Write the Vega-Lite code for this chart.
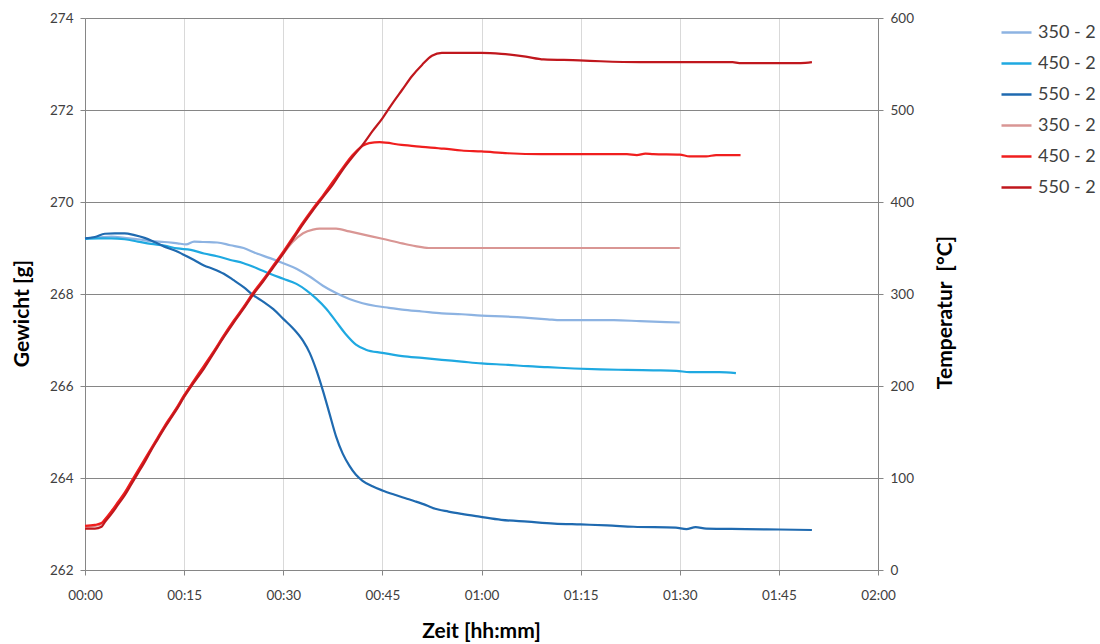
{
  "$schema": "https://vega.github.io/schema/vega-lite/v6.json",
  "width": 793,
  "height": 552,
  "autosize": {"type": "none"},
  "padding": {"left": 85, "top": 18, "right": 222, "bottom": 74},
  "background": "white",
  "config": {
    "font": "Lato",
    "view": {"stroke": null},
    "axis": {
      "labelFont": "Lato",
      "labelFontSize": 13.5,
      "labelColor": "#404040",
      "titleFont": "Lato",
      "titleFontSize": 21,
      "titleFontWeight": "bold",
      "titleColor": "#000000",
      "domainColor": "#868686",
      "tickColor": "#868686",
      "tickSize": 5,
      "labelPadding": 7,
      "labelFlush": false
    }
  },
  "datasets": {
    "weight": [
      {"s": "W350", "t": 0, "v": 269.21}, {"s": "W350", "t": 2, "v": 269.23}, {"s": "W350", "t": 4, "v": 269.25}, {"s": "W350", "t": 6, "v": 269.22}, {"s": "W350", "t": 8, "v": 269.19}, {"s": "W350", "t": 10, "v": 269.15}, {"s": "W350", "t": 12, "v": 269.13}, {"s": "W350", "t": 14, "v": 269.10}, {"s": "W350", "t": 15.3, "v": 269.08}, {"s": "W350", "t": 16.5, "v": 269.14}, {"s": "W350", "t": 18, "v": 269.13}, {"s": "W350", "t": 20, "v": 269.12}, {"s": "W350", "t": 22, "v": 269.06}, {"s": "W350", "t": 24, "v": 269.00}, {"s": "W350", "t": 26, "v": 268.88}, {"s": "W350", "t": 28, "v": 268.78}, {"s": "W350", "t": 30, "v": 268.67}, {"s": "W350", "t": 32, "v": 268.55}, {"s": "W350", "t": 34, "v": 268.38}, {"s": "W350", "t": 36, "v": 268.18}, {"s": "W350", "t": 38, "v": 268.02}, {"s": "W350", "t": 40, "v": 267.89}, {"s": "W350", "t": 42, "v": 267.80}, {"s": "W350", "t": 44, "v": 267.74}, {"s": "W350", "t": 46, "v": 267.70}, {"s": "W350", "t": 48, "v": 267.66}, {"s": "W350", "t": 51, "v": 267.62}, {"s": "W350", "t": 54, "v": 267.58}, {"s": "W350", "t": 57, "v": 267.56}, {"s": "W350", "t": 60, "v": 267.53}, {"s": "W350", "t": 64, "v": 267.51}, {"s": "W350", "t": 67, "v": 267.48}, {"s": "W350", "t": 70, "v": 267.45}, {"s": "W350", "t": 72, "v": 267.43}, {"s": "W350", "t": 80, "v": 267.43}, {"s": "W350", "t": 84, "v": 267.41}, {"s": "W350", "t": 86, "v": 267.40}, {"s": "W350", "t": 90, "v": 267.38},
      {"s": "W450", "t": 0, "v": 269.20}, {"s": "W450", "t": 2, "v": 269.21}, {"s": "W450", "t": 4, "v": 269.21}, {"s": "W450", "t": 6, "v": 269.19}, {"s": "W450", "t": 8, "v": 269.14}, {"s": "W450", "t": 10, "v": 269.09}, {"s": "W450", "t": 12, "v": 269.05}, {"s": "W450", "t": 14, "v": 268.99}, {"s": "W450", "t": 16, "v": 268.96}, {"s": "W450", "t": 18, "v": 268.88}, {"s": "W450", "t": 20, "v": 268.82}, {"s": "W450", "t": 22, "v": 268.74}, {"s": "W450", "t": 24, "v": 268.67}, {"s": "W450", "t": 26, "v": 268.56}, {"s": "W450", "t": 28, "v": 268.44}, {"s": "W450", "t": 30, "v": 268.33}, {"s": "W450", "t": 32, "v": 268.22}, {"s": "W450", "t": 33.5, "v": 268.08}, {"s": "W450", "t": 35, "v": 267.90}, {"s": "W450", "t": 36.5, "v": 267.68}, {"s": "W450", "t": 38, "v": 267.40}, {"s": "W450", "t": 39.5, "v": 267.12}, {"s": "W450", "t": 41, "v": 266.90}, {"s": "W450", "t": 42.5, "v": 266.79}, {"s": "W450", "t": 45, "v": 266.72}, {"s": "W450", "t": 48, "v": 266.65}, {"s": "W450", "t": 51, "v": 266.61}, {"s": "W450", "t": 54, "v": 266.57}, {"s": "W450", "t": 57, "v": 266.53}, {"s": "W450", "t": 60, "v": 266.49}, {"s": "W450", "t": 64, "v": 266.46}, {"s": "W450", "t": 67, "v": 266.43}, {"s": "W450", "t": 70, "v": 266.41}, {"s": "W450", "t": 74, "v": 266.38}, {"s": "W450", "t": 78, "v": 266.36}, {"s": "W450", "t": 82, "v": 266.35}, {"s": "W450", "t": 86, "v": 266.34}, {"s": "W450", "t": 89.5, "v": 266.33}, {"s": "W450", "t": 91.5, "v": 266.30}, {"s": "W450", "t": 96, "v": 266.30}, {"s": "W450", "t": 98.5, "v": 266.28},
      {"s": "W550", "t": 0, "v": 269.21}, {"s": "W550", "t": 1.5, "v": 269.24}, {"s": "W550", "t": 3, "v": 269.31}, {"s": "W550", "t": 4.5, "v": 269.32}, {"s": "W550", "t": 6, "v": 269.32}, {"s": "W550", "t": 7.5, "v": 269.28}, {"s": "W550", "t": 9, "v": 269.22}, {"s": "W550", "t": 10.5, "v": 269.13}, {"s": "W550", "t": 12, "v": 269.03}, {"s": "W550", "t": 13.5, "v": 268.95}, {"s": "W550", "t": 15, "v": 268.85}, {"s": "W550", "t": 16.5, "v": 268.74}, {"s": "W550", "t": 18, "v": 268.62}, {"s": "W550", "t": 19.5, "v": 268.54}, {"s": "W550", "t": 21, "v": 268.44}, {"s": "W550", "t": 22.5, "v": 268.30}, {"s": "W550", "t": 24, "v": 268.15}, {"s": "W550", "t": 25.5, "v": 267.97}, {"s": "W550", "t": 27, "v": 267.83}, {"s": "W550", "t": 28.5, "v": 267.67}, {"s": "W550", "t": 30, "v": 267.46}, {"s": "W550", "t": 31.5, "v": 267.25}, {"s": "W550", "t": 33, "v": 266.98}, {"s": "W550", "t": 34, "v": 266.72}, {"s": "W550", "t": 35, "v": 266.35}, {"s": "W550", "t": 36, "v": 265.90}, {"s": "W550", "t": 37, "v": 265.40}, {"s": "W550", "t": 38, "v": 264.90}, {"s": "W550", "t": 39, "v": 264.53}, {"s": "W550", "t": 40, "v": 264.27}, {"s": "W550", "t": 41, "v": 264.07}, {"s": "W550", "t": 42, "v": 263.94}, {"s": "W550", "t": 43.5, "v": 263.82}, {"s": "W550", "t": 45, "v": 263.73}, {"s": "W550", "t": 47, "v": 263.63}, {"s": "W550", "t": 48.5, "v": 263.56}, {"s": "W550", "t": 50, "v": 263.49}, {"s": "W550", "t": 51.6, "v": 263.41}, {"s": "W550", "t": 53, "v": 263.33}, {"s": "W550", "t": 55, "v": 263.27}, {"s": "W550", "t": 57, "v": 263.22}, {"s": "W550", "t": 59.7, "v": 263.16}, {"s": "W550", "t": 63, "v": 263.09}, {"s": "W550", "t": 67, "v": 263.05}, {"s": "W550", "t": 71, "v": 263.01}, {"s": "W550", "t": 75, "v": 262.99}, {"s": "W550", "t": 79, "v": 262.97}, {"s": "W550", "t": 83, "v": 262.94}, {"s": "W550", "t": 89.4, "v": 262.92}, {"s": "W550", "t": 91, "v": 262.89}, {"s": "W550", "t": 92.4, "v": 262.93}, {"s": "W550", "t": 94, "v": 262.90}, {"s": "W550", "t": 100, "v": 262.89}, {"s": "W550", "t": 105, "v": 262.88}, {"s": "W550", "t": 110, "v": 262.87}
    ],
    "temp": [
      {"s": "T350", "t": 0, "v": 47}, {"s": "T350", "t": 1.5, "v": 48}, {"s": "T350", "t": 2.5, "v": 50}, {"s": "T350", "t": 3, "v": 54}, {"s": "T350", "t": 4, "v": 63}, {"s": "T350", "t": 5, "v": 73}, {"s": "T350", "t": 6, "v": 83}, {"s": "T350", "t": 7, "v": 95}, {"s": "T350", "t": 8, "v": 107}, {"s": "T350", "t": 9, "v": 119}, {"s": "T350", "t": 10, "v": 131}, {"s": "T350", "t": 11, "v": 143}, {"s": "T350", "t": 12, "v": 155}, {"s": "T350", "t": 13, "v": 166}, {"s": "T350", "t": 14, "v": 177}, {"s": "T350", "t": 15, "v": 189}, {"s": "T350", "t": 16.5, "v": 205}, {"s": "T350", "t": 18, "v": 221}, {"s": "T350", "t": 19.5, "v": 237}, {"s": "T350", "t": 21, "v": 254}, {"s": "T350", "t": 22.5, "v": 270}, {"s": "T350", "t": 24, "v": 285}, {"s": "T350", "t": 25.5, "v": 301}, {"s": "T350", "t": 27, "v": 315}, {"s": "T350", "t": 28.5, "v": 330}, {"s": "T350", "t": 30, "v": 344}, {"s": "T350", "t": 31.5, "v": 357}, {"s": "T350", "t": 33, "v": 366}, {"s": "T350", "t": 34.5, "v": 370}, {"s": "T350", "t": 35.5, "v": 371}, {"s": "T350", "t": 38, "v": 371}, {"s": "T350", "t": 40, "v": 368}, {"s": "T350", "t": 42.5, "v": 364}, {"s": "T350", "t": 45, "v": 360}, {"s": "T350", "t": 48, "v": 355}, {"s": "T350", "t": 50, "v": 352}, {"s": "T350", "t": 52, "v": 350}, {"s": "T350", "t": 60, "v": 350}, {"s": "T350", "t": 70, "v": 350}, {"s": "T350", "t": 80, "v": 350}, {"s": "T350", "t": 90, "v": 350},
      {"s": "T450", "t": 0, "v": 48}, {"s": "T450", "t": 1.5, "v": 49}, {"s": "T450", "t": 2.5, "v": 51}, {"s": "T450", "t": 3, "v": 55}, {"s": "T450", "t": 4, "v": 64}, {"s": "T450", "t": 5, "v": 74}, {"s": "T450", "t": 6, "v": 84}, {"s": "T450", "t": 7, "v": 96}, {"s": "T450", "t": 8, "v": 108}, {"s": "T450", "t": 9, "v": 120}, {"s": "T450", "t": 10, "v": 132}, {"s": "T450", "t": 11, "v": 144}, {"s": "T450", "t": 12, "v": 156}, {"s": "T450", "t": 13, "v": 167}, {"s": "T450", "t": 14, "v": 178}, {"s": "T450", "t": 15, "v": 190}, {"s": "T450", "t": 16.5, "v": 206}, {"s": "T450", "t": 18, "v": 222}, {"s": "T450", "t": 19.5, "v": 238}, {"s": "T450", "t": 21, "v": 255}, {"s": "T450", "t": 22.5, "v": 271}, {"s": "T450", "t": 24, "v": 286}, {"s": "T450", "t": 25.5, "v": 302}, {"s": "T450", "t": 27, "v": 316}, {"s": "T450", "t": 28.5, "v": 331}, {"s": "T450", "t": 30, "v": 346}, {"s": "T450", "t": 31.5, "v": 362}, {"s": "T450", "t": 33, "v": 378}, {"s": "T450", "t": 34.5, "v": 393}, {"s": "T450", "t": 36, "v": 407}, {"s": "T450", "t": 37.5, "v": 422}, {"s": "T450", "t": 39, "v": 437}, {"s": "T450", "t": 40.5, "v": 451}, {"s": "T450", "t": 42, "v": 461}, {"s": "T450", "t": 43, "v": 464}, {"s": "T450", "t": 44.6, "v": 465}, {"s": "T450", "t": 47.9, "v": 462}, {"s": "T450", "t": 51, "v": 460}, {"s": "T450", "t": 54.3, "v": 458}, {"s": "T450", "t": 57, "v": 456}, {"s": "T450", "t": 60, "v": 455}, {"s": "T450", "t": 64, "v": 453}, {"s": "T450", "t": 69, "v": 452}, {"s": "T450", "t": 74, "v": 452}, {"s": "T450", "t": 82, "v": 452}, {"s": "T450", "t": 83.5, "v": 451}, {"s": "T450", "t": 84.8, "v": 452.5}, {"s": "T450", "t": 86, "v": 452}, {"s": "T450", "t": 90, "v": 451.5}, {"s": "T450", "t": 91.5, "v": 449.5}, {"s": "T450", "t": 94, "v": 449.5}, {"s": "T450", "t": 95.5, "v": 451}, {"s": "T450", "t": 99.2, "v": 451},
      {"s": "T550", "t": 0, "v": 45}, {"s": "T550", "t": 1.5, "v": 45}, {"s": "T550", "t": 2.5, "v": 47}, {"s": "T550", "t": 3, "v": 52}, {"s": "T550", "t": 4, "v": 61}, {"s": "T550", "t": 5, "v": 71}, {"s": "T550", "t": 6, "v": 81}, {"s": "T550", "t": 7, "v": 93}, {"s": "T550", "t": 8, "v": 105}, {"s": "T550", "t": 9, "v": 117}, {"s": "T550", "t": 10, "v": 130}, {"s": "T550", "t": 11, "v": 142}, {"s": "T550", "t": 12, "v": 154}, {"s": "T550", "t": 13, "v": 165}, {"s": "T550", "t": 14, "v": 176}, {"s": "T550", "t": 15, "v": 188}, {"s": "T550", "t": 16.5, "v": 204}, {"s": "T550", "t": 18, "v": 219}, {"s": "T550", "t": 19.5, "v": 236}, {"s": "T550", "t": 21, "v": 253}, {"s": "T550", "t": 22.5, "v": 269}, {"s": "T550", "t": 24, "v": 284}, {"s": "T550", "t": 25.5, "v": 300}, {"s": "T550", "t": 27, "v": 314}, {"s": "T550", "t": 28.5, "v": 329}, {"s": "T550", "t": 30, "v": 344}, {"s": "T550", "t": 31.5, "v": 360}, {"s": "T550", "t": 33, "v": 376}, {"s": "T550", "t": 34.5, "v": 391}, {"s": "T550", "t": 36, "v": 405}, {"s": "T550", "t": 37.5, "v": 419}, {"s": "T550", "t": 39, "v": 435}, {"s": "T550", "t": 40.5, "v": 449}, {"s": "T550", "t": 42, "v": 462}, {"s": "T550", "t": 43.5, "v": 477}, {"s": "T550", "t": 45, "v": 491}, {"s": "T550", "t": 46.5, "v": 507}, {"s": "T550", "t": 48, "v": 522}, {"s": "T550", "t": 49.5, "v": 537}, {"s": "T550", "t": 51, "v": 549}, {"s": "T550", "t": 52.5, "v": 559}, {"s": "T550", "t": 54, "v": 562}, {"s": "T550", "t": 57, "v": 562}, {"s": "T550", "t": 60, "v": 562}, {"s": "T550", "t": 63, "v": 561}, {"s": "T550", "t": 66.7, "v": 558}, {"s": "T550", "t": 69.4, "v": 555}, {"s": "T550", "t": 74.8, "v": 554}, {"s": "T550", "t": 78, "v": 553}, {"s": "T550", "t": 84, "v": 552}, {"s": "T550", "t": 98, "v": 552}, {"s": "T550", "t": 99, "v": 551}, {"s": "T550", "t": 108.3, "v": 551}, {"s": "T550", "t": 110, "v": 552}
    ]
  },
  "layer": [
    {
      "data": {"name": "weight"},
      "mark": {"type": "line", "strokeWidth": 2.2, "interpolate": "monotone"},
      "encoding": {
        "x": {
          "field": "t", "type": "quantitative",
          "scale": {"domain": [0, 120], "nice": false},
          "axis": {
            "values": [0, 15, 30, 45, 60, 75, 90, 105, 120],
            "labelExpr": "utcFormat(datum.value * 60000, '%H:%M')",
            "labelFlush": false,
            "grid": true, "gridColor": "#D9D9D9", "gridWidth": 1,
            "title": "Zeit [hh:mm]", "titleX": 396, "titleY": 61, "titleBaseline": "middle",
            "labelPadding": 13
          }
        },
        "y": {
          "field": "v", "type": "quantitative",
          "scale": {"domain": [262, 274], "nice": false, "zero": false},
          "axis": {
            "orient": "left",
            "values": [262, 264, 266, 268, 270, 272, 274],
            "grid": true, "gridColor": "#868686", "gridWidth": 1,
            "title": "Gewicht [g]", "titleX": -63, "titleY": 295, "titleAngle": 270,
            "titleAlign": "center", "titleBaseline": "middle"
          }
        },
        "color": {
          "field": "s", "type": "nominal",
          "scale": {
            "domain": ["W350", "W450", "W550", "T350", "T450", "T550"],
            "range": ["#8DB3E2", "#1FA9E1", "#1F6AB0", "#D99694", "#F01E1E", "#C0171D"]
          },
          "legend": {
            "orient": "none", "legendX": 915, "legendY": 0,
            "title": null,
            "labelExpr": "slice(datum.label, 1) + ' - 2'",
            "symbolType": "stroke", "symbolSize": 900, "symbolStrokeWidth": 2.5,
            "labelFont": "Lato", "labelFontSize": 18, "labelColor": "#404040",
            "labelOffset": 5, "clipHeight": 29, "rowPadding": 2, "padding": 0
          }
        }
      }
    },
    {
      "data": {"name": "temp"},
      "mark": {"type": "line", "strokeWidth": 2.2, "interpolate": "monotone"},
      "encoding": {
        "x": {
          "field": "t", "type": "quantitative",
          "scale": {"domain": [0, 120], "nice": false},
          "axis": {
            "values": [0, 15, 30, 45, 60, 75, 90, 105, 120],
            "labelExpr": "utcFormat(datum.value * 60000, '%H:%M')",
            "labelFlush": false,
            "grid": true, "gridColor": "#D9D9D9", "gridWidth": 1,
            "title": "Zeit [hh:mm]", "titleX": 396, "titleY": 61, "titleBaseline": "middle",
            "labelPadding": 13
          }
        },
        "y": {
          "field": "v", "type": "quantitative",
          "scale": {"domain": [0, 600], "nice": false},
          "axis": {
            "orient": "right",
            "values": [0, 100, 200, 300, 400, 500, 600],
            "grid": false,
            "title": "Temperatur \u00a0[°C]", "titleX": 67, "titleY": 294, "titleAngle": 270,
            "titleAlign": "center", "titleBaseline": "middle"
          }
        },
        "color": {"field": "s", "type": "nominal"}
      }
    }
  ],
  "resolve": {"scale": {"y": "independent"}}
}
